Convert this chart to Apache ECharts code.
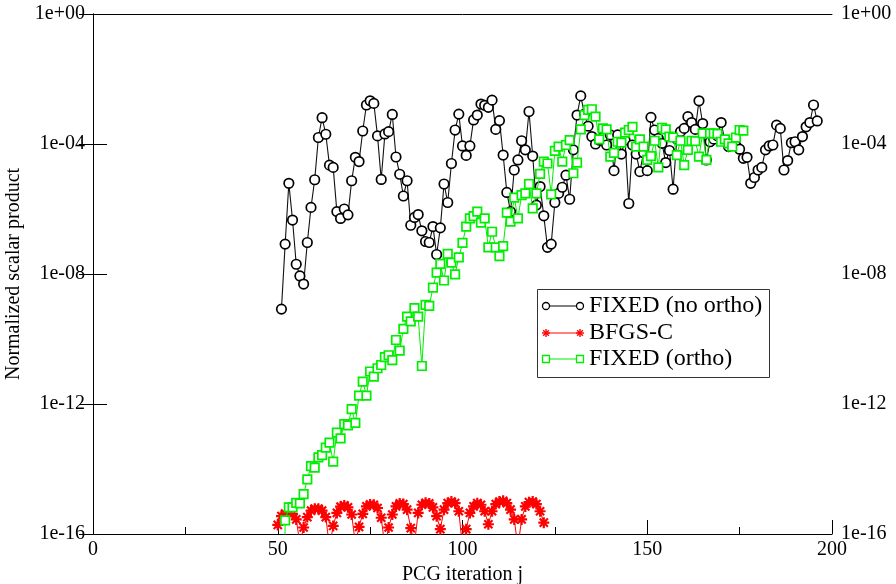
<!DOCTYPE html>
<html>
<head>
<meta charset="utf-8">
<script src="https://cdn.jsdelivr.net/npm/echarts/dist/echarts.min.js"></script>
<style>
html,body{margin:0;padding:0;background:#fff;}
#chart{width:896px;height:584px;}
</style>
</head>
<body>
<div id="chart"></div>
<script>
// ---- data (values stored as log10 of the normalized scalar product) ----
var seriesNames = ['FIXED (no ortho)', 'BFGS-C', 'FIXED (ortho)'];
var xTicks = [0, 50, 100, 150, 200];
var yTickExponents = [-16, -12, -8, -4, 0];

var fixedNoOrthoStart = 51;
var fixedNoOrthoLog10 = [
 -9.08,-7.08,-5.21,-6.34,-7.70,-8.06,-8.31,-7.03,-5.95,-5.10,
 -3.80,-3.19,-3.70,-4.65,-4.72,-6.08,-6.29,-6.00,-6.18,-5.13,
 -4.41,-4.54,-3.60,-2.80,-2.67,-2.75,-3.75,-5.09,-3.69,-3.62,
 -3.09,-4.40,-4.93,-5.60,-5.13,-6.50,-6.26,-6.17,-6.67,-7.00,
 -7.03,-6.54,-7.40,-6.58,-5.23,-5.80,-4.60,-3.57,-3.08,-4.06,
 -4.35,-4.06,-3.26,-3.11,-2.77,-2.81,-2.87,-2.65,-3.55,-3.28,
 -4.34,-5.49,-6.08,-4.80,-4.49,-3.90,-4.18,-3.00,-4.37,-5.88,
 -5.31,-6.21,-7.18,-7.08,-5.80,-5.52,-5.33,-4.96,-5.70,-4.18,
 -3.11,-2.52,-3.08,-3.45,-3.77,-4.00,-3.88,-3.80,-4.03,-3.72,
 -4.82,-3.72,-4.31,-3.88,-5.83,-4.03,-4.31,-4.85,-4.27,-4.82,
 -3.18,-3.57,-3.83,-3.98,-4.57,-4.20,-5.39,-3.85,-3.62,-3.52,
 -3.16,-3.34,-3.55,-2.67,-3.37,-4.49,-3.93,-3.85,-3.75,-3.34,
 -3.90,-4.08,-4.00,-4.05,-4.16,-4.44,-4.41,-5.21,-5.03,-4.80,
 -4.72,-4.18,-4.06,-4.03,-3.42,-3.52,-4.80,-4.51,-3.96,-3.93,
 -4.18,-3.77,-3.47,-3.34,-2.80,-3.29
];

var bfgsStart = 50;
var bfgsLog10 = [
 -15.72,-15.45,-15.37,-15.35,-15.38,-15.55,-16.30,-15.80,-15.48,-15.28,
 -15.22,-15.22,-15.28,-15.48,-16.40,-15.75,-15.35,-15.16,-15.12,-15.18,
 -15.40,-16.30,-15.78,-15.38,-15.15,-15.09,-15.10,-15.20,-15.50,-16.40,
 -15.80,-15.40,-15.15,-15.06,-15.08,-15.25,-15.82,-16.30,-15.35,-15.10,
 -15.04,-15.06,-15.18,-15.45,-15.85,-15.25,-15.05,-15.00,-15.05,-15.30,
 -16.40,-15.85,-15.35,-15.15,-15.05,-15.10,-15.30,-15.70,-15.30,-15.08,
 -15.00,-14.98,-15.05,-15.25,-15.55,-16.40,-15.55,-15.15,-15.02,-15.00,
 -15.08,-15.30,-15.65
];

var fixedOrthoStart = 51;
var fixedOrthoLog10 = [
 -30.0,-15.58,-15.18,-15.18,-15.04,-15.06,-14.77,-14.32,-13.91,-13.96,
 -13.64,-13.57,-13.34,-13.19,-13.77,-12.88,-13.06,-12.62,-12.66,-12.16,
 -12.58,-11.74,-11.31,-11.74,-11.00,-11.16,-10.90,-10.80,-10.56,-10.50,
 -10.65,-10.03,-10.36,-9.69,-9.31,-9.46,-9.05,-9.31,-10.83,-8.95,
 -8.98,-8.42,-7.96,-7.69,-8.20,-7.38,-7.65,-8.01,-7.49,-7.04,
 -6.54,-6.29,-6.22,-6.08,-6.42,-6.29,-7.18,-6.70,-7.18,-7.45,
 -7.14,-6.11,-6.39,-5.65,-6.29,-5.57,-5.52,-5.23,-5.98,-5.52,
 -4.92,-4.54,-4.60,-5.55,-4.21,-4.08,-4.54,-4.03,-3.88,-4.90,
 -4.57,-3.55,-3.11,-2.95,-2.93,-3.16,-3.86,-3.52,-3.55,-4.39,
 -4.27,-3.93,-3.96,-3.65,-3.57,-3.47,-4.08,-3.86,-4.08,-4.49,
 -4.37,-3.90,-4.72,-3.50,-3.55,-3.77,-3.80,-4.34,-3.90,-4.65,
 -4.18,-3.90,-3.91,-4.39,-3.67,-4.49,-3.67,-3.67,-3.69,-3.93,
 -3.86,-3.98,-4.08,-3.80,-3.57,-3.59
];

// ---- build series data ----
function toPairs(start, logs) {
  return logs.map(function (l, i) { return [start + i, Math.pow(10, l)]; });
}
var blackData = toPairs(fixedNoOrthoStart, fixedNoOrthoLog10);
var redData = toPairs(bfgsStart, bfgsLog10);
var greenData = toPairs(fixedOrthoStart, fixedOrthoLog10);

var FONT = '"Liberation Serif","DejaVu Serif",serif';
var ASTERISK = 'path://M8,0L12,0L12,20L8,20Z M0,8L20,8L20,12L0,12Z M1.2,4L4,1.2L18.8,16L16,18.8Z M16,1.2L18.8,4L4,18.8L1.2,16Z';
var GREEN = '#00ee00';

function expLabel(v) {
  var e = Math.round(Math.log10(v));
  var s = e < 0 ? '-' : '+';
  var a = Math.abs(e);
  return '1e' + s + (a < 10 ? '0' + a : '' + a);
}

var yMin = Math.pow(10, yTickExponents[0]);
var yMax = Math.pow(10, yTickExponents[yTickExponents.length - 1]);

var yAxisCommon = {
  type: 'log', logBase: 10, min: yMin, max: yMax, interval: 4,
  axisLine: { show: true, lineStyle: { color: '#000', width: 1 } },
  axisTick: { show: true, inside: true, length: 14, lineStyle: { color: '#000' } },
  splitLine: { show: false },
  axisLabel: { color: '#000', fontFamily: FONT, fontSize: 20, formatter: expLabel }
};

var chart = echarts.init(document.getElementById('chart'), null, { renderer: 'canvas' });

var L = { x: 537, y: 289, w: 232, h: 88 };
var rows = [306, 333, 359];
var sx1 = 546, sx2 = 580, tx = 589;
var LEG_FONT = '24px ' + FONT;

function asteriskLines(cx, cy, r, color) {
  var d = r * 0.707;
  var segs = [[cx - r, cy, cx + r, cy], [cx, cy - r, cx, cy + r],
              [cx - d, cy - d, cx + d, cy + d], [cx - d, cy + d, cx + d, cy - d]];
  return segs.map(function (s) {
    return { type: 'line', shape: { x1: s[0], y1: s[1], x2: s[2], y2: s[3] },
             style: { stroke: color, lineWidth: 1.4 }, z: 102 };
  });
}

var graphics = [
  { type: 'rect', shape: { x: L.x + 0.5, y: L.y + 0.5, width: L.w, height: L.h },
    style: { fill: '#fff', stroke: '#333', lineWidth: 1 }, z: 100 },
  // row 1
  { type: 'line', shape: { x1: sx1, y1: rows[0], x2: sx2, y2: rows[0] }, style: { stroke: '#000', lineWidth: 1 }, z: 101 },
  { type: 'circle', shape: { cx: sx1, cy: rows[0], r: 3.5 }, style: { fill: '#fff', stroke: '#000', lineWidth: 1.3 }, z: 102 },
  { type: 'circle', shape: { cx: sx2, cy: rows[0], r: 3.5 }, style: { fill: '#fff', stroke: '#000', lineWidth: 1.3 }, z: 102 },
  { type: 'text', x: tx, y: rows[0], style: { text: seriesNames[0], font: LEG_FONT, fill: '#000', verticalAlign: 'middle' }, z: 102 },
  // row 2
  { type: 'line', shape: { x1: sx1, y1: rows[1], x2: sx2, y2: rows[1] }, style: { stroke: '#ff0000', lineWidth: 1 }, z: 101 },
  { type: 'text', x: tx, y: rows[1], style: { text: seriesNames[1], font: LEG_FONT, fill: '#000', verticalAlign: 'middle' }, z: 102 },
  // row 3
  { type: 'line', shape: { x1: sx1, y1: rows[2], x2: sx2, y2: rows[2] }, style: { stroke: GREEN, lineWidth: 1 }, z: 101 },
  { type: 'rect', shape: { x: sx1 - 3.5, y: rows[2] - 3.5, width: 7, height: 7 }, style: { fill: '#fff', stroke: GREEN, lineWidth: 1.3 }, z: 102 },
  { type: 'rect', shape: { x: sx2 - 3.5, y: rows[2] - 3.5, width: 7, height: 7 }, style: { fill: '#fff', stroke: GREEN, lineWidth: 1.3 }, z: 102 },
  { type: 'text', x: tx, y: rows[2], style: { text: seriesNames[2], font: LEG_FONT, fill: '#000', verticalAlign: 'middle' }, z: 102 }
].concat(asteriskLines(sx1, rows[1], 4, '#ff0000'), asteriskLines(sx2, rows[1], 4, '#ff0000'));

var option = {
  backgroundColor: '#fff',
  animation: false,
  grid: { left: 93, right: 64, top: 14, bottom: 50, containLabel: false, outerBoundsMode: 'none' },
  xAxis: [{
    type: 'value', min: xTicks[0], max: xTicks[xTicks.length - 1], interval: 50,
    name: 'PCG iteration j', nameLocation: 'middle', nameGap: 28,
    nameTextStyle: { color: '#000', fontFamily: FONT, fontSize: 20 },
    axisLine: { show: true, onZero: false, lineStyle: { color: '#000', width: 1 } },
    axisTick: { show: true, inside: true, length: 14, lineStyle: { color: '#000' } },
    minorTick: { show: true, splitNumber: 2, length: 7, lineStyle: { color: '#000' } },
    splitLine: { show: false },
    axisLabel: { color: '#000', fontFamily: FONT, fontSize: 20, margin: 6 }
  }, {
    type: 'value', position: 'top', min: xTicks[0], max: xTicks[xTicks.length - 1], interval: 50,
    axisLine: { show: true, onZero: false, lineStyle: { color: '#000', width: 1 } },
    axisTick: { show: false }, axisLabel: { show: false }, splitLine: { show: false }
  }],
  yAxis: [
    Object.assign({}, yAxisCommon, {
      position: 'left',
      name: 'Normalized scalar product', nameLocation: 'middle', nameGap: 65,
      nameTextStyle: { color: '#000', fontFamily: FONT, fontSize: 20 },
      axisLabel: Object.assign({}, yAxisCommon.axisLabel, { margin: 8 })
    }),
    Object.assign({}, yAxisCommon, {
      position: 'right',
      axisLabel: Object.assign({}, yAxisCommon.axisLabel, { margin: 9 })
    })
  ],
  series: [{
    name: seriesNames[0], type: 'line', data: blackData, xAxisIndex: 0, yAxisIndex: 0,
    symbol: 'circle', symbolSize: 9.5, showAllSymbol: true, clip: true,
    lineStyle: { color: '#111', width: 1.1 },
    itemStyle: { color: '#fff', borderColor: '#000', borderWidth: 1.7 },
    emphasis: { disabled: true }, z: 3
  }, {
    name: seriesNames[1], type: 'line', data: redData, xAxisIndex: 0, yAxisIndex: 0,
    symbol: ASTERISK, symbolSize: 11, showAllSymbol: true, clip: true,
    lineStyle: { color: '#ff0000', width: 1 },
    itemStyle: { color: '#ff0000', borderWidth: 0 },
    emphasis: { disabled: true }, z: 4
  }, {
    name: seriesNames[2], type: 'line', data: greenData, xAxisIndex: 0, yAxisIndex: 0,
    symbol: 'rect', symbolSize: 8.5, showAllSymbol: true, clip: true,
    lineStyle: { color: GREEN, width: 1 },
    itemStyle: { color: '#fff', borderColor: GREEN, borderWidth: 1.7 },
    emphasis: { disabled: true }, z: 5
  }],
  graphic: graphics
};

chart.setOption(option);
</script>
</body>
</html>
